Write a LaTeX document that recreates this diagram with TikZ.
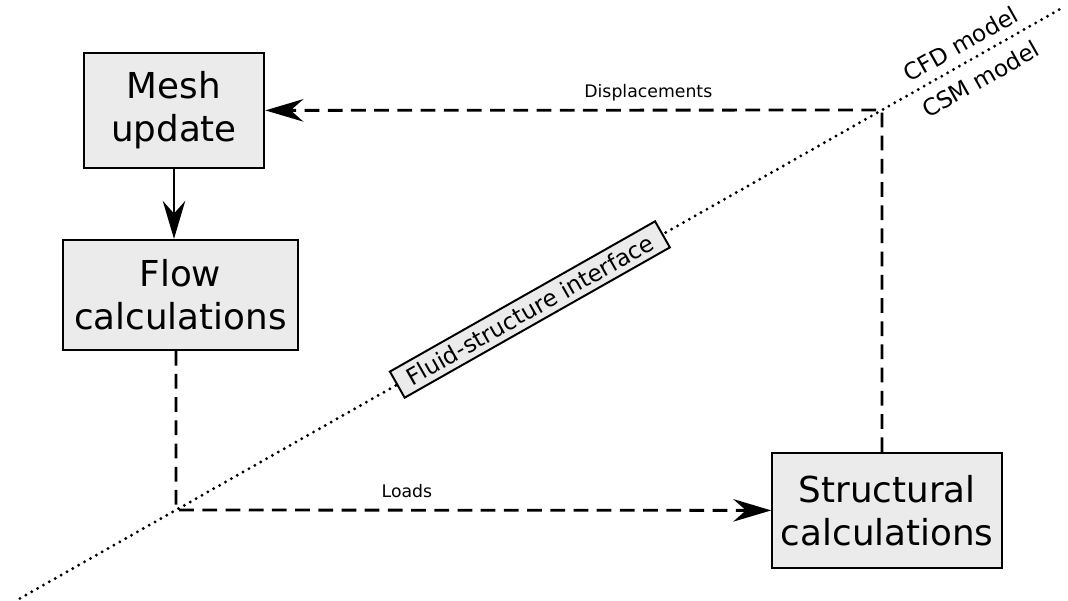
\documentclass[tikz,border=0pt]{standalone}
\usepackage{fontspec}
\setmainfont{DejaVu Sans}
\usetikzlibrary{arrows.meta,calc}
\definecolor{boxgray}{RGB}{235,235,235}

\begin{document}
\begin{tikzpicture}[>={Stealth[length=27pt,width=16pt,inset=9pt]}]
	\tikzstyle{block}=[draw, line width=1.4pt, fill=boxgray, align=center, inner sep=0pt, font=\fontsize{25.4}{30.5}\selectfont]
	\tikzstyle{signal}=[line width=2pt, dash pattern=on 10.5pt off 6pt]
	\tikzstyle{interface}=[line width=2.3pt, line cap=round, dash pattern=on 0pt off 4.8pt]
	\tikzstyle{small}=[inner sep=0pt, text depth=0pt, font=\fontsize{12.3}{14.8}\selectfont]
	\tikzstyle{model}=[inner sep=0pt, text depth=0pt, font=\fontsize{16.5}{19.8}\selectfont]

	\useasboundingbox (0,0) rectangle (26.7,15);

	\node (mesh) [block, minimum width=4.52cm, minimum height=2.87cm] at (4.35,12.24) {Mesh\\update};
	\node (flow) [block, minimum width=5.87cm, minimum height=2.75cm] at (4.51,7.63) {Flow\\calculations};
	\node (struct) [block, minimum width=5.75cm, minimum height=2.87cm] at (22.18,2.24) {Structural\\calculations};

	\coordinate (c1) at (4.4,2.25);
	\coordinate (c2) at (22.05,12.25);

	% interface between the two models
	\draw [interface] ($(c1)!-0.221!(c2)$) -- ($(c1)!1.259!(c2)$)
		node[pos=0.488, sloped, solid, line cap=butt, draw, line width=1.4pt, fill=boxgray, inner sep=0pt, minimum width=7.62cm, minimum height=0.75cm, model] (fsi) {Fluid-structure interface}
		node[pos=0.909, sloped, above=0.21cm, model] (cfd) {CFD model}
		node[pos=0.909, sloped, below=0.28cm, model] (csm) {CSM model};

	\draw [->, line width=1.4pt] (mesh.south) -- (mesh.south |- flow.north);

	\draw [->, signal] (flow.south -| c1) -- (c1) -- node[pos=0.388, above=0.27cm, small] (loads) {Loads} (struct.west);
	\draw [->, signal] (struct.north -| c2) -- (c2) -- node[pos=0.379, above=0.27cm, small] (disp) {Displacements} (mesh.east);
\end{tikzpicture}
\end{document}
